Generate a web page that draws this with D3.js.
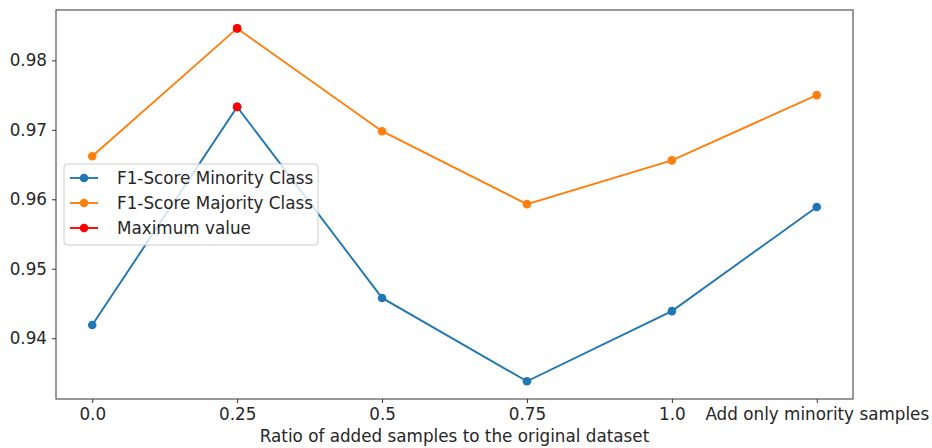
<!DOCTYPE html>
<html>
<head>
<meta charset="utf-8">
<script src="https://cdn.jsdelivr.net/npm/d3@7"></script>
<style>
  html, body { margin: 0; padding: 0; background: #fff; }
  svg text { font-family: "DejaVu Sans", sans-serif; fill: #262626; }
</style>
</head>
<body>
<svg id="chart" width="932" height="448"></svg>
<script>
// Categories along the x axis
const categories = ["0.0", "0.25", "0.5", "0.75", "1.0", "Add only minority samples"];
// F1 scores per class
const minority = [0.9419, 0.9733, 0.9458, 0.9338, 0.9439, 0.9589];
const majority = [0.9662, 0.9846, 0.9698, 0.9593, 0.9656, 0.9750];
// Y tick values
const yTicks = [0.94, 0.95, 0.96, 0.97, 0.98];
const seriesNames = ["F1-Score Minority Class", "F1-Score Majority Class", "Maximum value"];
const xLabel = "Ratio of added samples to the original dataset";

const colors = { minority: "#1f77b4", majority: "#ff7f0e", max: "#ff0000" };
const fontSize = 16.8;

const margin = { left: 56, right: 79, top: 10, bottom: 49 };
const W = 932, H = 448;
const svg = d3.select("#chart");

const x = d3.scaleLinear().domain([-0.25, categories.length - 1 + 0.25])
  .range([margin.left, W - margin.right]);
const y = d3.scaleLinear().domain([0.93125, 0.98725])
  .range([H - margin.bottom, margin.top]);

const g = svg.append("g");

// Lines and markers
const line = d3.line().x((d, i) => x(i)).y(d => y(d));
function drawSeries(vals, color) {
  g.append("path").datum(vals).attr("d", line)
    .attr("fill", "none").attr("stroke", color).attr("stroke-width", 1.9);
  g.selectAll(null).data(vals).enter().append("circle")
    .attr("cx", (d, i) => x(i)).attr("cy", d => y(d)).attr("r", 4.3)
    .attr("fill", color);
}
drawSeries(minority, colors.minority);
drawSeries(majority, colors.majority);

// Maximum points
[minority, majority].forEach(vals => {
  const i = d3.maxIndex(vals);
  g.append("circle").attr("cx", x(i)).attr("cy", y(vals[i])).attr("r", 4.3)
    .attr("fill", colors.max);
});

// Axes
const xAxis = d3.axisBottom(x).tickValues(d3.range(categories.length))
  .tickFormat(i => categories[i]).tickSize(4).tickPadding(5);
const yAxis = d3.axisLeft(y).tickValues(yTicks)
  .tickFormat(d3.format(".2f")).tickSize(4).tickPadding(5);

const gx = svg.append("g").attr("transform", `translate(0,${H - margin.bottom})`).call(xAxis);
const gy = svg.append("g").attr("transform", `translate(${margin.left},0)`).call(yAxis);
[gx, gy].forEach(a => {
  a.attr("font-size", fontSize).attr("font-family", '"DejaVu Sans", sans-serif');
  a.select(".domain").remove();
  a.selectAll(".tick line").attr("stroke", "#333").attr("stroke-width", 1);
  a.selectAll(".tick text").attr("font-size", fontSize).attr("fill", "#262626");
});

// Frame
svg.append("rect").attr("x", margin.left).attr("y", margin.top)
  .attr("width", W - margin.left - margin.right).attr("height", H - margin.top - margin.bottom)
  .attr("fill", "none").attr("stroke", "#333").attr("stroke-width", 1);

// X label
svg.append("text").attr("x", (margin.left + W - margin.right) / 2).attr("y", 442)
  .attr("text-anchor", "middle").attr("font-size", fontSize).text(xLabel);

// Legend
const leg = svg.append("g").attr("transform", "translate(64,164)");
leg.append("rect").attr("width", 254).attr("height", 81).attr("rx", 3)
  .attr("fill", "rgba(255,255,255,0.8)").attr("stroke", "#cccccc").attr("stroke-width", 1);
const legColors = [colors.minority, colors.majority, colors.max];
seriesNames.forEach((name, i) => {
  const ly = 14 + i * 25;
  leg.append("line").attr("x1", 6).attr("x2", 34).attr("y1", ly).attr("y2", ly)
    .attr("stroke", legColors[i]).attr("stroke-width", 1.9);
  leg.append("circle").attr("cx", 20).attr("cy", ly).attr("r", 4.3).attr("fill", legColors[i]);
  leg.append("text").attr("x", 53).attr("y", ly + 6).attr("font-size", fontSize).text(name);
});
</script>
</body>
</html>
